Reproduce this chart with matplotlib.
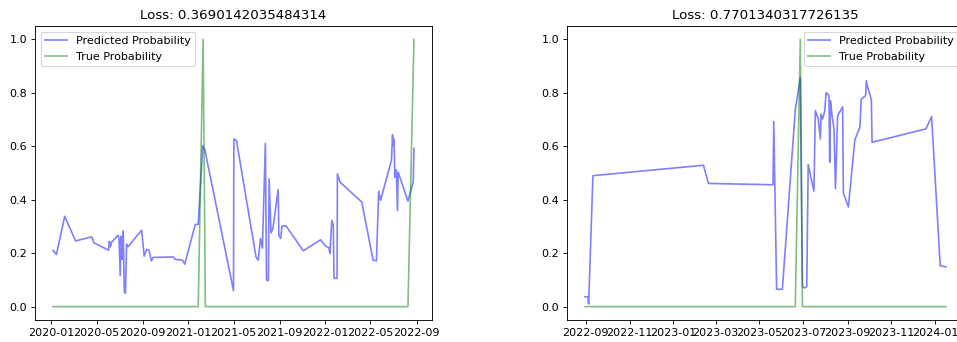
import matplotlib
matplotlib.use("Agg")
import matplotlib.pyplot as plt
import matplotlib.dates as mdates
import pandas as pd

# ---------------- Left panel data ----------------
left_title = "Loss: 0.3690142035484314"
left_dates = [
    "2020-01-06", "2020-01-15", "2020-02-06", "2020-03-06", "2020-04-18", "2020-04-24",
    "2020-06-02", "2020-06-04", "2020-06-07", "2020-06-10", "2020-06-27", "2020-06-30",
    "2020-07-03", "2020-07-05", "2020-07-08", "2020-07-11", "2020-07-14", "2020-07-17",
    "2020-07-20", "2020-07-24", "2020-08-29", "2020-09-05", "2020-09-11", "2020-09-18",
    "2020-09-24", "2020-09-29", "2020-11-22", "2020-11-26", "2020-12-16", "2020-12-22",
    "2021-01-19", "2021-01-27", "2021-02-08", "2021-02-14", "2021-05-01", "2021-05-02",
    "2021-05-09", "2021-06-30", "2021-07-06", "2021-07-12", "2021-07-17", "2021-07-25",
    "2021-07-28", "2021-08-02", "2021-08-04", "2021-08-09", "2021-08-14", "2021-08-28",
    "2021-08-30", "2021-09-04", "2021-09-07", "2021-09-18", "2021-11-03", "2021-12-19",
    "2022-01-02", "2022-01-10", "2022-01-13", "2022-01-18", "2022-01-22", "2022-01-24",
    "2022-02-01", "2022-02-02", "2022-02-09", "2022-04-08", "2022-05-08", "2022-05-17",
    "2022-05-23", "2022-05-28", "2022-06-26", "2022-06-29", "2022-06-30", "2022-07-03",
    "2022-07-05", "2022-07-09", "2022-07-12", "2022-07-14", "2022-08-09", "2022-08-23",
    "2022-08-25",
]
left_pred = [
    0.210, 0.195, 0.338, 0.246, 0.261, 0.239,
    0.211, 0.244, 0.224, 0.241, 0.267, 0.253,
    0.116, 0.263, 0.177, 0.283, 0.056, 0.050,
    0.234, 0.224, 0.286, 0.189, 0.214, 0.211,
    0.171, 0.184, 0.186, 0.177, 0.174, 0.159,
    0.307, 0.308, 0.602, 0.584, 0.060, 0.627,
    0.621, 0.186, 0.174, 0.255, 0.219, 0.611,
    0.100, 0.097, 0.478, 0.276, 0.292, 0.438,
    0.267, 0.255, 0.301, 0.302, 0.209, 0.250,
    0.226, 0.221, 0.199, 0.323, 0.304, 0.106,
    0.106, 0.497, 0.466, 0.391, 0.174, 0.171,
    0.432, 0.398, 0.547, 0.643, 0.602, 0.627,
    0.484, 0.512, 0.360, 0.503, 0.395, 0.466,
    0.592,
]
left_true_dates = ["2020-01-06", "2021-01-27", "2021-02-09", "2021-02-15", "2022-08-09", "2022-08-25"]
left_true = [0, 0, 1, 0, 0, 1]

# ---------------- Right panel data ----------------
right_title = "Loss: 0.7701340317726135"
right_dates = [
    "2022-08-31", "2022-09-04", "2022-09-05", "2022-09-11", "2023-02-12", "2023-02-19",
    "2023-05-20", "2023-05-21", "2023-05-25", "2023-06-02", "2023-06-20", "2023-06-27",
    "2023-06-30", "2023-07-03", "2023-07-06", "2023-07-08", "2023-07-16", "2023-07-18",
    "2023-07-22", "2023-07-25", "2023-07-26", "2023-07-28", "2023-07-31", "2023-08-02",
    "2023-08-06", "2023-08-07", "2023-08-08", "2023-08-10", "2023-08-13", "2023-08-15",
    "2023-08-18", "2023-08-25", "2023-08-26", "2023-09-02", "2023-09-11", "2023-09-18",
    "2023-09-20", "2023-09-26", "2023-09-27", "2023-09-29", "2023-10-04", "2023-10-05",
    "2023-12-19", "2023-12-27", "2024-01-08", "2024-01-16",
]
right_pred = [
    0.037, 0.037, 0.010, 0.490, 0.529, 0.461,
    0.456, 0.693, 0.065, 0.065, 0.735, 0.857,
    0.075, 0.070, 0.075, 0.532, 0.432, 0.733,
    0.702, 0.627, 0.720, 0.702, 0.730, 0.801,
    0.789, 0.540, 0.770, 0.720, 0.665, 0.441,
    0.714, 0.748, 0.425, 0.373, 0.624, 0.671,
    0.776, 0.789, 0.845, 0.820, 0.776, 0.615,
    0.665, 0.711, 0.153, 0.149,
]
right_true_dates = ["2022-08-31", "2023-06-20", "2023-06-27", "2023-06-30", "2024-01-16"]
right_true = [0, 0, 1, 0, 0]

S = 0.8  # the reference looks like a 0.8x downscaled default figure
plt.rcParams.update({
    "axes.linewidth": 0.8 * S,
    "xtick.major.width": 0.8 * S,
    "ytick.major.width": 0.8 * S,
    "xtick.major.size": 3.5 * S,
    "ytick.major.size": 3.5 * S,
    "xtick.major.pad": 3.5 * S,
    "ytick.major.pad": 3.5 * S,
    "lines.linewidth": 1.5 * S,
    "xtick.labelsize": 10 * S,
    "ytick.labelsize": 10 * S,
})

fig = plt.figure(figsize=(9.57, 3.42), dpi=100)
W, H = 957.0, 342.0
ax1 = fig.add_axes([35 / W, (H - 320) / H, 397 / W, 294 / H])
ax2 = fig.add_axes([567 / W, (H - 320) / H, 397 / W, 294 / H])


def draw(ax, title, dates, pred, tdates, tvals, loc, interval):
    ax.plot(pd.to_datetime(dates), pred, color="blue", alpha=0.5, label="Predicted Probability")
    ax.plot(pd.to_datetime(tdates), tvals, color="green", alpha=0.5, label="True Probability")
    ax.set_title(title, fontsize=12 * S, pad=6 * S)
    ax.xaxis.set_major_locator(mdates.MonthLocator(bymonth=range(1, 13, interval)))
    ax.xaxis.set_major_formatter(mdates.DateFormatter("%Y-%m"))
    leg = ax.legend(loc=loc, fontsize=10 * S)
    leg.get_frame().set_linewidth(1.0 * S)


draw(ax1, left_title, left_dates, left_pred, left_true_dates, left_true, "upper left", 4)
draw(ax2, right_title, right_dates, right_pred, right_true_dates, right_true, "upper right", 2)

fig.savefig("out.png", dpi=100)
